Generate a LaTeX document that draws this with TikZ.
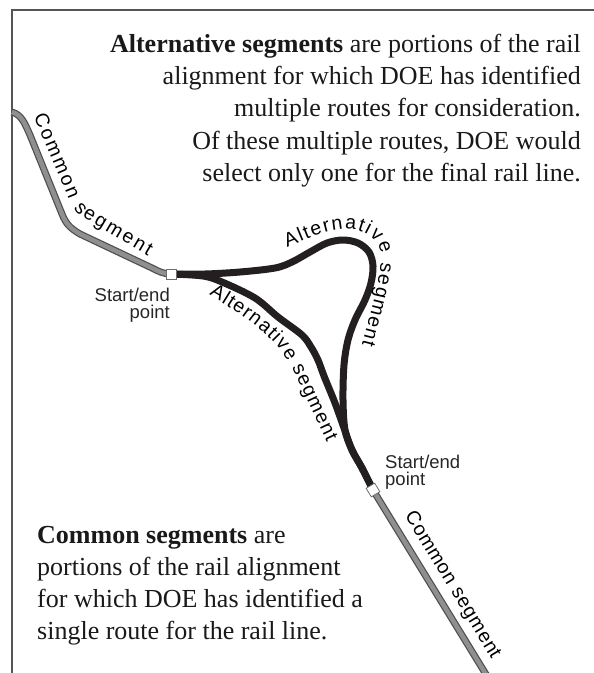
\documentclass[tikz,border=0pt]{standalone}
\usepackage{fontspec}
\setmainfont{Liberation Serif}
\newfontfamily\lblfont{Liberation Sans}
\usetikzlibrary{decorations.text}
\newcommand\lblsz{\lblfont\fontsize{19.5}{20}\selectfont}
\newcommand\ptsz{\lblfont\fontsize{18.5}{19}\selectfont}
\newcommand\bodysz{\fontsize{26}{32}\selectfont}
\definecolor{framec}{HTML}{555555}
\definecolor{trackedge}{HTML}{4D4D4D}
\definecolor{trackfill}{HTML}{8F8F8F}
\definecolor{altc}{HTML}{231F20}
\definecolor{sqc}{HTML}{6D6D6D}
\begin{document}
\begin{tikzpicture}[x=1pt,y=-1pt,
  body/.style={inner sep=0pt, font=\bodysz, text=black!90},
  ptlbl/.style={inner sep=0pt, font=\ptsz, text=black!85},
  common/.style={line width=1.2pt, draw=trackedge, double=trackfill, double distance=4.6pt},
  alt/.style={line width=7pt, draw=altc, line cap=round, line join=round},
  endsq/.style={draw=sqc, fill=white, minimum size=10pt, inner sep=0pt, line width=0.8pt},
  along/.style={decorate, decoration={text along path, text={#1}, text align={fit to path}}}
]
\useasboundingbox (0,0) rectangle (594,673);
\clip (0,0) rectangle (594,673);

% frame
\draw[framec, line width=1.5pt] (12,673) -- (12,10) -- (594,10);

% text
\node[body, anchor=base east] (t1) at (581,52) {\textbf{Alternative segments} are portions of the rail};
\node[body, anchor=base east] (t2) at (581,84) {alignment for which DOE has identified};
\node[body, anchor=base east] (t3) at (581,116.5) {multiple routes for consideration.};
\node[body, anchor=base east] (t4) at (581,149) {Of these multiple routes, DOE would};
\node[body, anchor=base east] (t5) at (581,181) {select only one for the final rail line.};

\node[body, anchor=base west] (b1) at (37,543) {\textbf{Common segments} are};
\node[body, anchor=base west] (b2) at (37,575) {portions of the rail alignment};
\node[body, anchor=base west] (b3) at (37,607) {for which DOE has identified a};
\node[body, anchor=base west] (b4) at (37,639) {single route for the rail line.};

% track points
\coordinate (p1) at (171,274);
\coordinate (p2) at (373,490);
\coordinate (c0) at (12,112);
\coordinate (c9) at (487,676);

% common segments
\draw[common] (c0) .. controls (22,115) and (25,124) .. (30,135) -- (62,214)
   .. controls (66,224) and (70,228) .. (80,234) -- (152,268)
   .. controls (158,271) and (163,274) .. (p1);
\draw[common] (p2) -- (c9);

% alternative segments
\draw[alt] plot[smooth, tension=0.55] coordinates {(p1) (205,274) (240,272) (275,268) (292,262) (310,252) (327,243) (343,240) (358,243) (369,252) (373,266) (371,283) (365,300) (355,320) (348,340) (344,365) (343,400) (345,430) (352,450) (362,468) (p2)};
\draw[alt] plot[smooth, tension=0.55] coordinates {(p1) (203,276) (222,282) (255,298) (278,317) (302,335) (311,347) (318,360) (324,376) (335,403) (344,428) (352,450) (362,468) (p2)};

% start/end squares
\node[endsq] (s1) at (p1) {};
\node[endsq, rotate=-59] (s2) at (p2) {};

% start/end labels
\node[ptlbl, anchor=base east] (l1a) at (170,301.5) {Start/end};
\node[ptlbl, anchor=base east] (l1b) at (170,318.5) {point};
\node[ptlbl, anchor=base west] (l2a) at (385,468) {Start/end};
\node[ptlbl, anchor=base west] (l2b) at (385,485) {point};

% labels along the tracks
\path[along={|\lblsz|Common segment}] (33.5,116) -- (65,190) .. controls (69,200) and (72,208) .. (79,215) -- (148,256);
\path[along={|\lblsz|Common segment}] (404.5,515.5) -- (491.7,659.5);
\path[along={|\lblsz|Alternative segment}] (287,247) .. controls (305,240) and (325,230) .. (343,229) .. controls (362,228) and (380,238) .. (381,255) .. controls (381,275) and (374,300) .. (362,345);
\path[along={|\lblsz|Alternative segment}] (209,295) .. controls (240,313) and (268,333) .. (282,352) .. controls (292,366) and (300,385) .. (308,402) -- (327,442);
\end{tikzpicture}
\end{document}
